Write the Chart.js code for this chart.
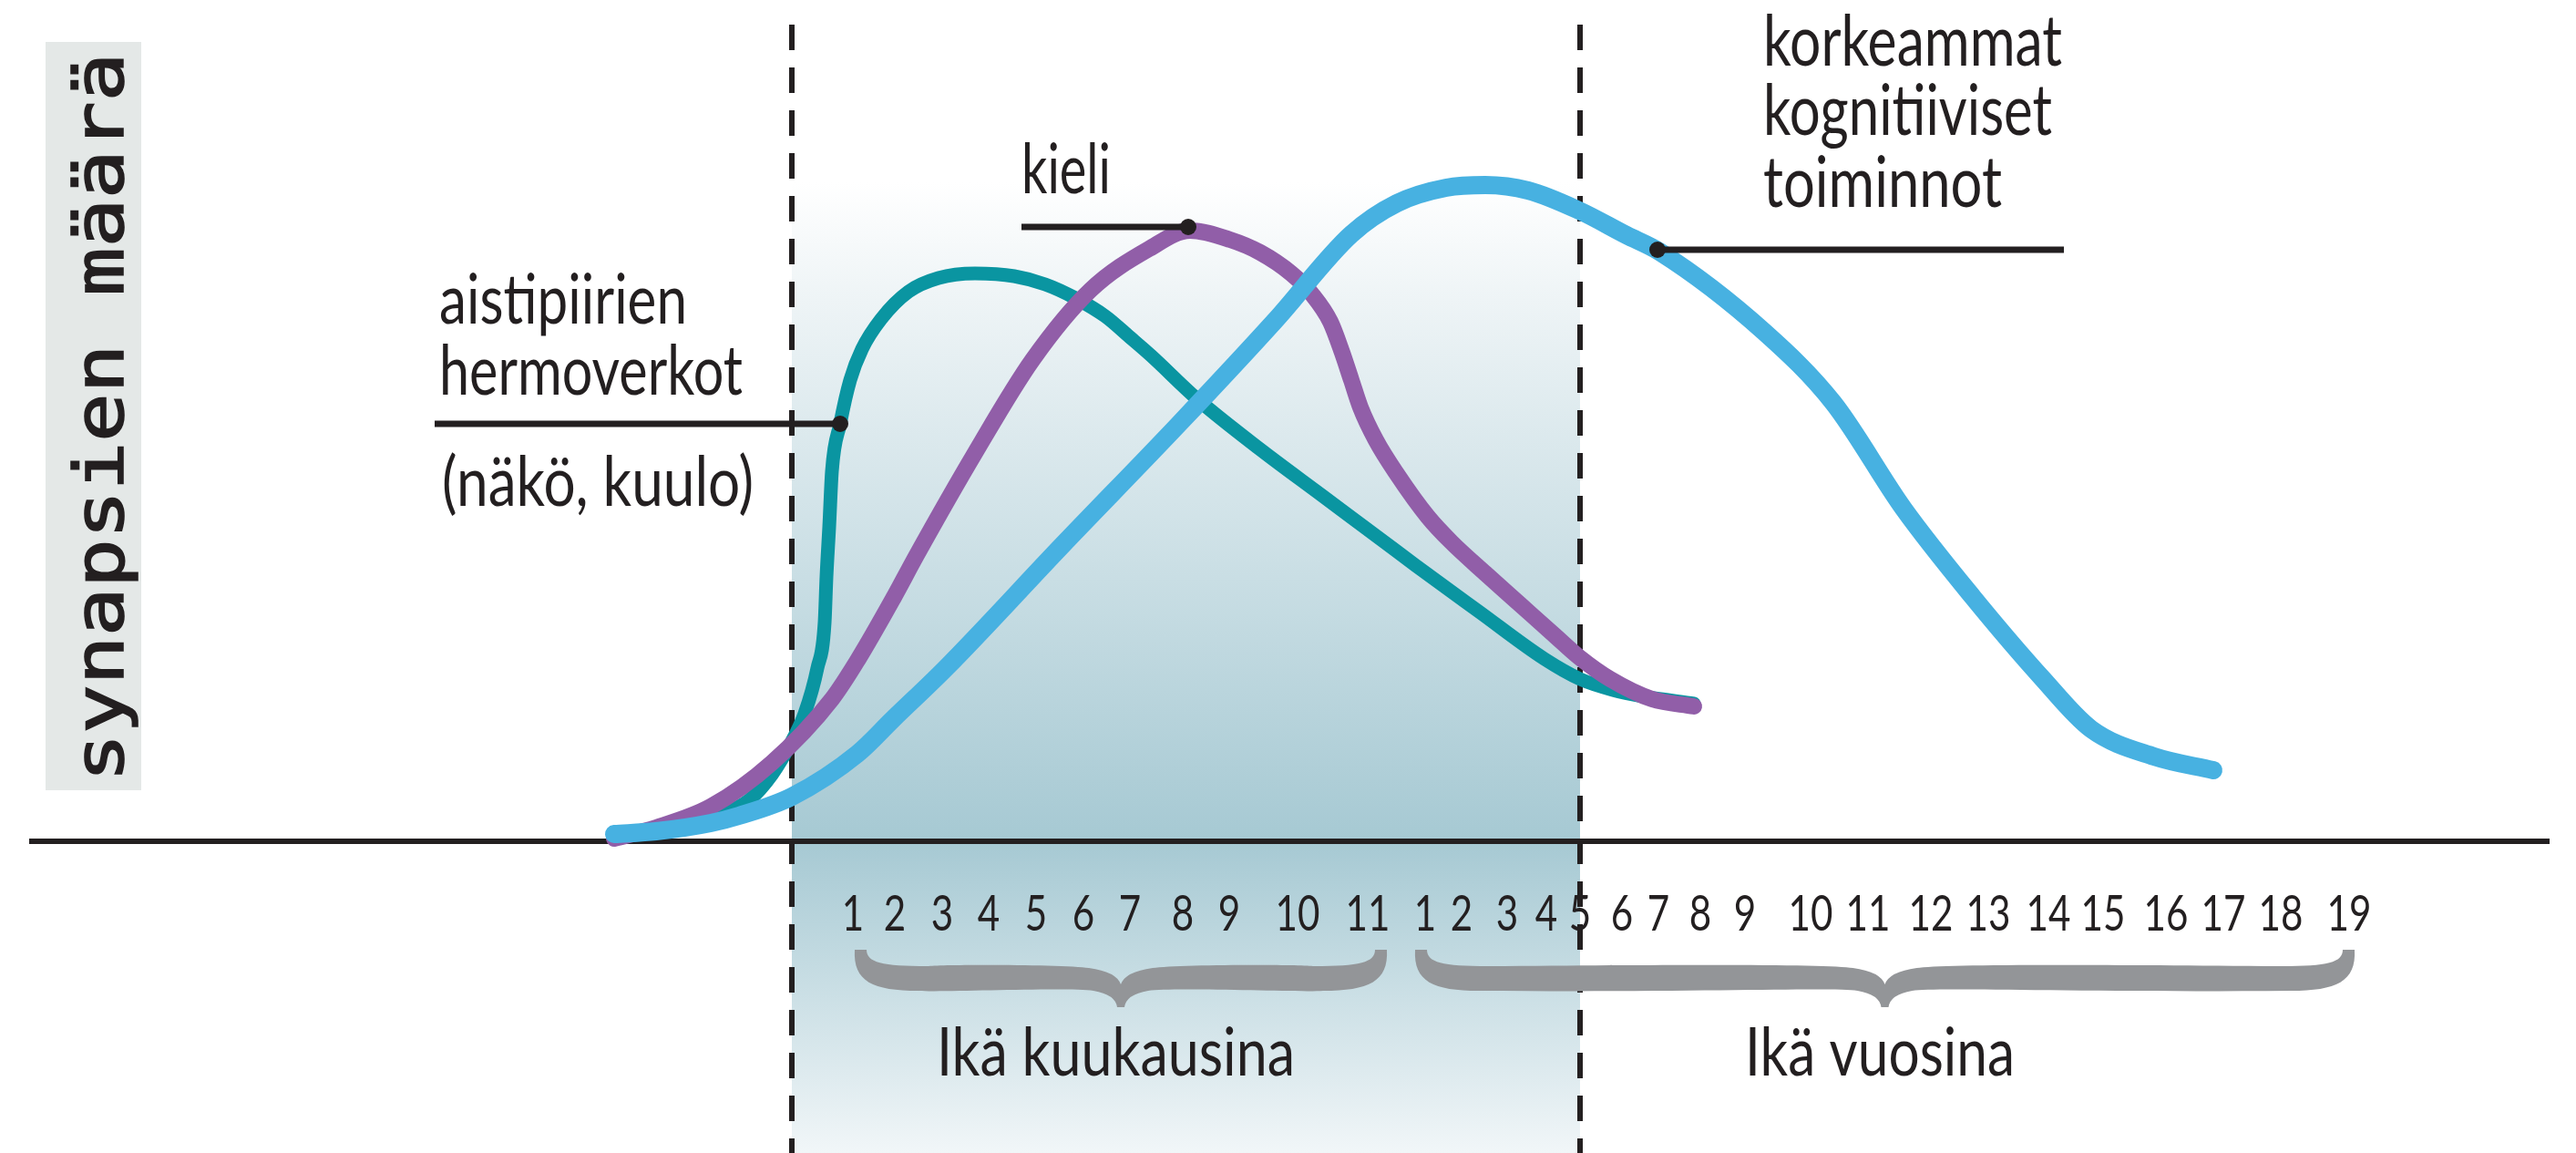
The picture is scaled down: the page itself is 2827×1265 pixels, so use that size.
<!DOCTYPE html>
<html lang="fi">
<head>
<meta charset="utf-8">
<title>Synapsien määrä</title>
<script src="https://cdn.jsdelivr.net/npm/chart.js@4.4.0/dist/chart.umd.min.js"></script>
<style>
  html, body { margin: 0; padding: 0; background: #fff; }
  #wrap { width: 2827px; height: 1265px; position: relative; }
</style>
</head>
<body>
<div id="wrap"><canvas id="kaavio"></canvas></div>
<script>
// vaaka-akseli = ikä (ei lineaarinen asteikko), pystyakseli = synapsien määrä (mielivaltainen yksikkö)

// aistipiirien hermoverkot (näkö, kuulo)
const aistiX = [674, 740, 793, 823, 847, 867, 883, 897, 905, 907, 910, 913, 922, 933, 946, 967, 997, 1030, 1070, 1113, 1147, 1180, 1213, 1240, 1263, 1313, 1383, 1450, 1517, 1553, 1623, 1695, 1734, 1770, 1803, 1859];
const aistiY = [8, 16, 30, 46, 73, 106, 140, 190, 240, 290, 345, 406, 458, 506, 540, 573, 603, 618, 623, 620, 611, 596, 576, 553, 533, 486, 430, 380, 330, 303, 252, 200, 178, 166, 159, 151];

// kieli
const kieliX = [674, 720, 780, 847, 913, 942, 980, 1006, 1070, 1133, 1197, 1261, 1306, 1350, 1383, 1417, 1440, 1460, 1473, 1483, 1493, 1510, 1533, 1567, 1593, 1630, 1668, 1706, 1733, 1767, 1813, 1859];
const kieliY = [3, 15, 38, 86, 156, 200, 266, 314, 426, 528, 605, 650, 670, 660, 646, 623, 600, 570, 536, 506, 476, 440, 403, 356, 328, 294, 260, 226, 202, 178, 156, 148];

// korkeammat kognitiiviset toiminnot
const kognitioX = [674, 720, 780, 811, 869, 941, 980, 1038, 1165, 1293, 1400, 1483, 1533, 1587, 1630, 1677, 1733, 1785, 1821, 1936, 2012, 2089, 2165, 2242, 2295, 2364, 2429];
const kognitioY = [8, 11, 20, 28, 49, 96, 134, 190, 324, 457, 572, 666, 700, 717, 720, 714, 692, 665, 647, 559, 481, 365, 268, 178, 123, 93, 78];

// akselin merkinnät
const kuukaudet = ['1', '2', '3', '4', '5', '6', '7', '8', '9', '10', '11'];
const kuukausiX = [936, 982, 1034, 1085, 1137, 1189, 1240, 1298, 1349, 1424, 1501];
const vuodet = ['1', '2', '3', '4', '5', '6', '7', '8', '9', '10', '11', '12', '13', '14', '15', '16', '17', '18', '19'];
const vuosiX = [1564, 1604, 1654, 1697, 1734, 1780, 1820, 1866, 1915, 1987, 2050, 2119, 2182, 2248, 2308, 2377, 2440, 2503, 2578];

// syntymä ja n. 4-5 vuoden ikä (katkoviivat)
const rajat = [869, 1734];

// aaltosulkeet
const jaksot = ['Ikä kuukausina', 'Ikä vuosina'];
const jaksoAlku = [938, 1553];
const jaksoLoppu = [1522, 2584];

const TUMMA = '#231f20';
const FONTTI = 'Lato, "Open Sans", sans-serif';

function pisteet(xs, ys) {
  return xs.map((x, i) => ({x: x, y: ys[i]}));
}

// teksti puristettuna annettuun leveyteen (alkuperäinen kirjasin on kapea)
function teksti(ctx, s, px, py, koko, leveys, align) {
  ctx.save();
  ctx.font = koko + 'px ' + FONTTI;
  ctx.fillStyle = TUMMA;
  ctx.textBaseline = 'alphabetic';
  ctx.textAlign = align || 'left';
  const sx = leveys / ctx.measureText(s).width;
  ctx.translate(px, py);
  ctx.scale(sx, 1);
  ctx.fillText(s, 0, 0);
  ctx.restore();
}

function sulje(ctx, a, b, yTop, yU, yL, yTip) {
  const m = (a + b) / 2, w = 13, r = 50;
  ctx.beginPath();
  ctx.moveTo(a, yTop);
  ctx.bezierCurveTo(a - 2, yL - 10, a + 20, yL, a + r + 20, yL);
  ctx.bezierCurveTo(m - 200, yL + 2, m - 60, yL - 4, m - 30, yL);
  ctx.quadraticCurveTo(m - 6, yL + 4, m - 4, yTip);
  ctx.lineTo(m + 4, yTip);
  ctx.quadraticCurveTo(m + 6, yL + 4, m + 30, yL);
  ctx.bezierCurveTo(m + 60, yL - 4, m + 200, yL + 2, b - r - 20, yL);
  ctx.bezierCurveTo(b - 20, yL, b + 2, yL - 10, b, yTop);
  ctx.lineTo(b - w, yTop);
  ctx.bezierCurveTo(b - w, yU - 4, b - 30, yU, b - r - 30, yU);
  ctx.bezierCurveTo(m + 200, yU - 2, m + 60, yU - 2, m + 35, yU + 2);
  ctx.quadraticCurveTo(m + 5, yU + 6, m, yU + 20);
  ctx.quadraticCurveTo(m - 5, yU + 6, m - 35, yU + 2);
  ctx.bezierCurveTo(m - 60, yU - 2, m - 200, yU - 2, a + r + 30, yU);
  ctx.bezierCurveTo(a + 30, yU, a + w, yU - 4, a + w, yTop);
  ctx.closePath();
  ctx.fill();
}

const taustaPlugin = {
  id: 'tausta',
  beforeDatasetsDraw(chart) {
    const {ctx, scales: {x, y}} = chart;
    const nolla = y.getPixelForValue(0);
    const ylä = y.getPixelForValue(723);
    const ala = chart.height;
    const x0 = x.getPixelForValue(rajat[0]);
    const x1 = x.getPixelForValue(rajat[1]);

    ctx.save();
    // varjostettu alue katkoviivojen välissä
    const g = ctx.createLinearGradient(0, ylä, 0, ala);
    g.addColorStop(0, '#ffffff');
    g.addColorStop(0.12, '#eef4f6');
    g.addColorStop((nolla - ylä) / (ala - ylä), '#a6c9d3');
    g.addColorStop(1, '#f1f6f8');
    ctx.fillStyle = g;
    ctx.fillRect(x0, ylä, x1 - x0, ala - ylä);

    // pystyakselin otsikko laatikossa
    const bx0 = x.getPixelForValue(50), bx1 = x.getPixelForValue(155);
    const by0 = y.getPixelForValue(877), by1 = y.getPixelForValue(56);
    ctx.fillStyle = '#e4e8e7';
    ctx.fillRect(bx0, by0, bx1 - bx0, by1 - by0);
    ctx.save();
    ctx.translate(x.getPixelForValue(135), y.getPixelForValue(65));
    ctx.rotate(-Math.PI / 2);
    ctx.font = '74px "DejaVu Sans Mono", monospace';
    const w = ctx.measureText('synapsien määrä').width;
    ctx.scale(800 / w, 1);
    ctx.fillStyle = TUMMA;
    ctx.strokeStyle = TUMMA;
    ctx.lineWidth = 1.6;
    ctx.textBaseline = 'alphabetic';
    ctx.fillText('synapsien määrä', 0, 0);
    ctx.strokeText('synapsien määrä', 0, 0);
    ctx.restore();

    // katkoviivat
    ctx.strokeStyle = TUMMA;
    ctx.lineWidth = 6;
    ctx.setLineDash([28, 19]);
    rajat.forEach(v => {
      const px = x.getPixelForValue(v);
      ctx.beginPath();
      ctx.moveTo(px, y.getPixelForValue(896));
      ctx.lineTo(px, ala);
      ctx.stroke();
    });
    ctx.setLineDash([]);

    // vaaka-akseli
    ctx.lineWidth = 6;
    ctx.beginPath();
    ctx.moveTo(x.getPixelForValue(32), nolla);
    ctx.lineTo(x.getPixelForValue(2798), nolla);
    ctx.stroke();
    ctx.restore();
  },
  afterDatasetsDraw(chart) {
    const {ctx, scales: {x, y}} = chart;
    const X = v => x.getPixelForValue(v);
    const Y = v => y.getPixelForValue(v);

    // osoitinviivat
    const selite = (x0, x1, yv, px) => {
      ctx.save();
      ctx.strokeStyle = TUMMA;
      ctx.fillStyle = TUMMA;
      ctx.lineWidth = 7;
      ctx.beginPath();
      ctx.moveTo(X(x0), Y(yv));
      ctx.lineTo(X(x1), Y(yv));
      ctx.stroke();
      ctx.beginPath();
      ctx.arc(X(px), Y(yv), 9, 0, Math.PI * 2);
      ctx.fill();
      ctx.restore();
    };
    selite(477, 922, 458, 922);
    selite(1121, 1304, 674, 1304);
    selite(1819, 2265, 649, 1819);

    teksti(ctx, 'aistipiirien', X(482), Y(568), 76, 272);
    teksti(ctx, 'hermoverkot', X(482), Y(490), 76, 333);
    teksti(ctx, '(näkö, kuulo)', X(485), Y(368), 76, 342);
    teksti(ctx, 'kieli', X(1121), Y(711), 76, 98);
    teksti(ctx, 'korkeammat', X(1935), Y(851), 78, 328);
    teksti(ctx, 'kognitiiviset', X(1935), Y(775), 78, 317);
    teksti(ctx, 'toiminnot', X(1935), Y(696), 78, 262);

    // iän numerot
    const numerot = kuukaudet.map((t, i) => [t, kuukausiX[i]])
      .concat(vuodet.map((t, i) => [t, vuosiX[i]]));
    ctx.save();
    ctx.font = '54px ' + FONTTI;
    ctx.fillStyle = TUMMA;
    ctx.textAlign = 'center';
    numerot.forEach(([t, v]) => {
      ctx.save();
      ctx.translate(X(v), Y(-98));
      ctx.scale(0.78, 1);
      ctx.fillText(t, 0, 0);
      ctx.restore();
    });
    ctx.restore();

    // aaltosulkeet ja niiden tekstit
    ctx.save();
    ctx.fillStyle = '#939598';
    jaksot.forEach((t, i) => {
      sulje(ctx, X(jaksoAlku[i]), X(jaksoLoppu[i]), Y(-119), Y(-137), Y(-164), Y(-182));
    });
    ctx.restore();
    teksti(ctx, jaksot[0], X(1028), Y(-257), 74, 393);
    teksti(ctx, jaksot[1], X(1915), Y(-257), 74, 296);
  }
};

const viiva = (data, vari, leveys) => ({
  data: data,
  borderColor: vari,
  borderWidth: leveys,
  borderCapStyle: 'round',
  borderJoinStyle: 'round',
  fill: false,
  cubicInterpolationMode: 'monotone',
  pointRadius: 0
});

new Chart(document.getElementById('kaavio'), {
  type: 'line',
  data: {
    datasets: [
      // ensimmäinen piirretään päällimmäiseksi
      viiva(pisteet(kognitioX, kognitioY), '#47b1e1', 20),
      viiva(pisteet(kieliX, kieliY), '#915ea8', 18),
      viiva(pisteet(aistiX, aistiY), '#0a95a1', 15)
    ]
  },
  options: {
    responsive: true,
    maintainAspectRatio: false,
    animation: false,
    layout: {padding: 0},
    scales: {
      x: {type: 'linear', min: 0, max: 2827, display: false},
      y: {type: 'linear', min: -342, max: 923, display: false}
    },
    plugins: {
      legend: {display: false},
      tooltip: {enabled: false}
    }
  },
  plugins: [taustaPlugin]
});
</script>
</body>
</html>
